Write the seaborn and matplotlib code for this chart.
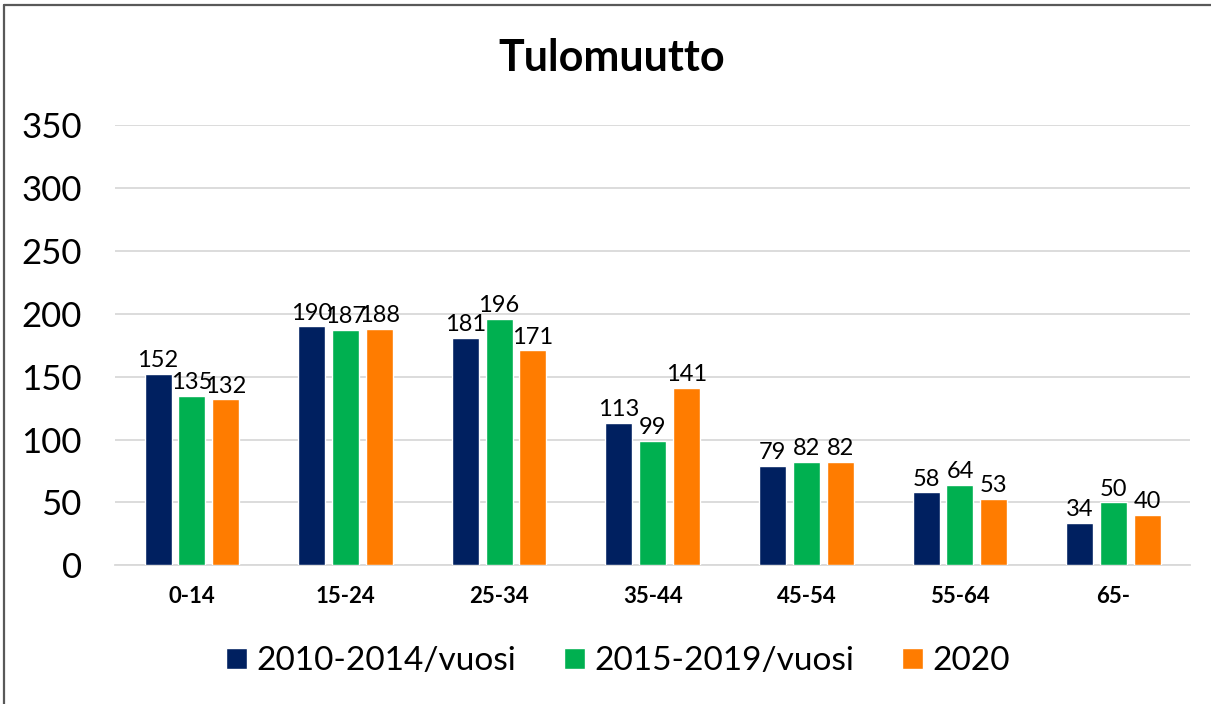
#!/usr/bin/env python3

import matplotlib.pyplot as plt
from matplotlib.lines import Line2D
import pandas as pd
import seaborn as sns

age_groups = ["0-14", "15-24", "25-34", "35-44", "45-54", "55-64", "65-"]
series_names = ["2010-2014/vuosi", "2015-2019/vuosi", "2020"]
values_2010_2014 = [152, 190, 181, 113, 79, 58, 34]
values_2015_2019 = [135, 187, 196, 99, 82, 64, 50]
values_2020 = [132, 188, 171, 141, 82, 53, 40]
colors = ["#002060", "#00B050", "#FF7C00"]


def main():
    df = pd.DataFrame({
        "Ikä": age_groups * 3,
        "Sarja": [name for name in series_names for _ in age_groups],
        "Arvo": values_2010_2014 + values_2015_2019 + values_2020,
    })

    sns.set_theme(style="white")
    plt.rcParams["font.family"] = ["Lato", "DejaVu Sans"]
    plt.rcParams["text.color"] = "black"
    plt.rcParams["xtick.color"] = "black"
    plt.rcParams["ytick.color"] = "black"

    fig = plt.figure(figsize=(12.11, 7.04), dpi=100)
    ax = fig.add_axes([0.095, 0.197, 0.888, 0.625])

    sns.barplot(
        data=df,
        x="Ikä",
        y="Arvo",
        hue="Sarja",
        palette=colors,
        saturation=1,
        width=0.66,
        gap=0.2,
        ax=ax,
        zorder=3,
    )
    for container in ax.containers:
        ax.bar_label(container, fontsize=17, padding=2)

    ax.set_ylim(0, 350)
    ax.set_yticks(range(0, 351, 50))
    ax.yaxis.grid(True, color="#D9D9D9", linewidth=1.3, zorder=0)
    ax.set_axisbelow(True)
    for side in ["left", "right", "top"]:
        ax.spines[side].set_visible(False)
    ax.spines["bottom"].set_color("#D9D9D9")
    ax.spines["bottom"].set_linewidth(1.3)
    ax.tick_params(axis="y", labelsize=25, length=0, pad=24)
    ax.tick_params(axis="x", labelsize=16, length=0, pad=15)
    for label in ax.get_xticklabels():
        label.set_fontweight("bold")
    ax.set_xlabel("")
    ax.set_ylabel("")

    ax.legend(
        loc="center",
        bbox_to_anchor=(0.4675, -0.218),
        ncol=3,
        frameon=False,
        fontsize=24,
        handlelength=0.63,
        handleheight=0.63,
        handletextpad=0.27,
        columnspacing=1.45,
    )

    fig.text(0.505, 0.918, "Tulomuutto", ha="center", va="center",
             fontsize=31, fontweight="bold")

    # frame around the chart (left and top edges visible)
    fig.add_artist(Line2D([4 / 1211, 4 / 1211], [0, 1 - 5 / 704],
                          color="#595959", linewidth=1.6))
    fig.add_artist(Line2D([4 / 1211, 1], [1 - 5 / 704, 1 - 5 / 704],
                          color="#595959", linewidth=1.6))

    fig.savefig("out.png", dpi=100)


if __name__ == '__main__':
    main()
